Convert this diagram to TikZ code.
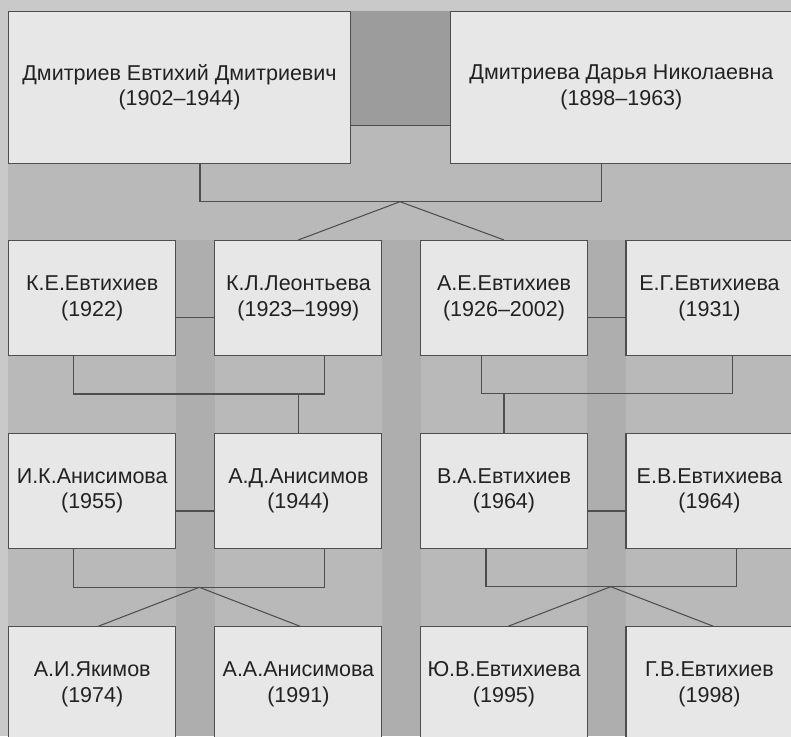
\documentclass[tikz,border=0pt]{standalone}
\usepackage{fontspec}
\setmainfont{Liberation Sans}
\usetikzlibrary{calc}
\definecolor{bgc}{HTML}{B9B9B9}
\definecolor{edgec}{HTML}{C9C9C9}
\definecolor{gapc}{HTML}{AEAEAE}
\definecolor{darkc}{HTML}{9C9C9C}
\definecolor{boxc}{HTML}{E7E7E7}
\definecolor{linec}{HTML}{4E4E4E}
\definecolor{txtc}{HTML}{222222}
\begin{document}
\begin{tikzpicture}[x=1pt,y=-1pt,
  person/.style={draw=linec, line width=1.05pt, fill=boxc, text=txtc, align=center,
    inner sep=0pt, font=\fontsize{21.5}{25.5}\selectfont},
  toprow/.style={person, minimum width=342pt, minimum height=152pt},
  kid/.style={person, minimum width=167pt, minimum height=115.3pt},
  link/.style={draw=linec, line width=1.05pt}]
\useasboundingbox (0,0) rectangle (791,736);
% background of the page
\fill[bgc] (0,0) rectangle (791,736);
\fill[edgec] (0,0) rectangle (8,736);
\fill[edgec] (8,0) rectangle (791,11);
\fill[darkc] (350.7,11) rectangle (450.7,125.5);
\fill[gapc] (176,240) rectangle (215,736);
\fill[gapc] (381.7,240) rectangle (420.7,736);
\fill[gapc] (587.3,240) rectangle (626,736);

% generation 1
\node[toprow] (A) at (179.5,87.4) {Дмитриев Евтихий Дмитриевич\\(1902–1944)};
\node[toprow] (B) at (621.4,87.4) {Дмитриева Дарья Николаевна\\(1898–1963)};
% generation 2
\node[kid] (C) at (92.2,298.1) {К.Е.Евтихиев\\(1922)};
\node[kid] (D) at (298.4,298.1) {К.Л.Леонтьева\\(1923–1999)};
\node[kid] (E) at (504,298.1) {А.Е.Евтихиев\\(1926–2002)};
\node[kid] (F) at (709.5,298.1) {Е.Г.Евтихиева\\(1931)};
% generation 3
\node[kid] (G) at (92.2,490.7) {И.К.Анисимова\\(1955)};
\node[kid] (H) at (298.4,490.7) {А.Д.Анисимов\\(1944)};
\node[kid] (I) at (504,490.7) {В.А.Евтихиев\\(1964)};
\node[kid] (J) at (709.5,490.7) {Е.В.Евтихиева\\(1964)};
% generation 4
\node[kid] (K) at (92.2,684.4) {А.И.Якимов\\(1974)};
\node[kid] (L) at (298.4,684.4) {А.А.Анисимова\\(1991)};
\node[kid] (M) at (504,684.4) {Ю.В.Евтихиева\\(1995)};
\node[kid] (N) at (709.5,684.4) {Г.В.Евтихиев\\(1998)};

% junction points
\coordinate (m1) at (400,125.5);
\coordinate (t1) at (200,201.7);
\coordinate (t2) at (601.7,201.7);
\coordinate (tm) at (400,201.7);
\coordinate (m2) at (400,317.5);
\coordinate (b2a) at (73.3,394);
\coordinate (b2b) at (324.3,394);
\coordinate (b2c) at (481.7,393.3);
\coordinate (b2d) at (732.3,393.3);
\coordinate (m3) at (400,511);
\coordinate (b3a) at (73.3,587.3);
\coordinate (b3b) at (324.3,587.3);
\coordinate (b3m) at (199.3,587.3);
\coordinate (b3c) at (486,586.7);
\coordinate (b3d) at (736.7,586.7);
\coordinate (b3n) at (610.7,586.7);
\coordinate (kK) at ($(K.north)+(6.1,0)$);
\coordinate (kL) at ($(L.north)+(1.6,0)$);
\coordinate (kM) at ($(M.north)+(4.3,0)$);
\coordinate (kN) at ($(N.north)+(3.8,0)$);

% generation 1 links
\draw[link] (A.east |- m1) -- (B.west |- m1);
\draw[link] (A.south -| t1) -- (t1) -- (t2) -- (B.south -| t2);
\draw[link] (D.north) -- (tm) -- (E.north);
% generation 2 links
\draw[link] (C.east |- m2) -- (D.west |- m2);
\draw[link] (E.east |- m2) -- (F.west |- m2);
\draw[link] (C.south -| b2a) -- (b2a) -- (b2b) -- (D.south -| b2b);
\draw[link] (H.north) -- (H.north |- b2a);
\draw[link] (E.south -| b2c) -- (b2c) -- (b2d) -- (F.south -| b2d);
\draw[link] (I.north) -- (I.north |- b2c);
% generation 3 links
\draw[link] (G.east |- m3) -- (H.west |- m3);
\draw[link] (I.east |- m3) -- (J.west |- m3);
\draw[link] (G.south -| b3a) -- (b3a) -- (b3b) -- (H.south -| b3b);
\draw[link] (kK) -- (b3m) -- (kL);
\draw[link] (I.south -| b3c) -- (b3c) -- (b3d) -- (J.south -| b3d);
\draw[link] (kM) -- (b3n) -- (kN);
\end{tikzpicture}
\end{document}
